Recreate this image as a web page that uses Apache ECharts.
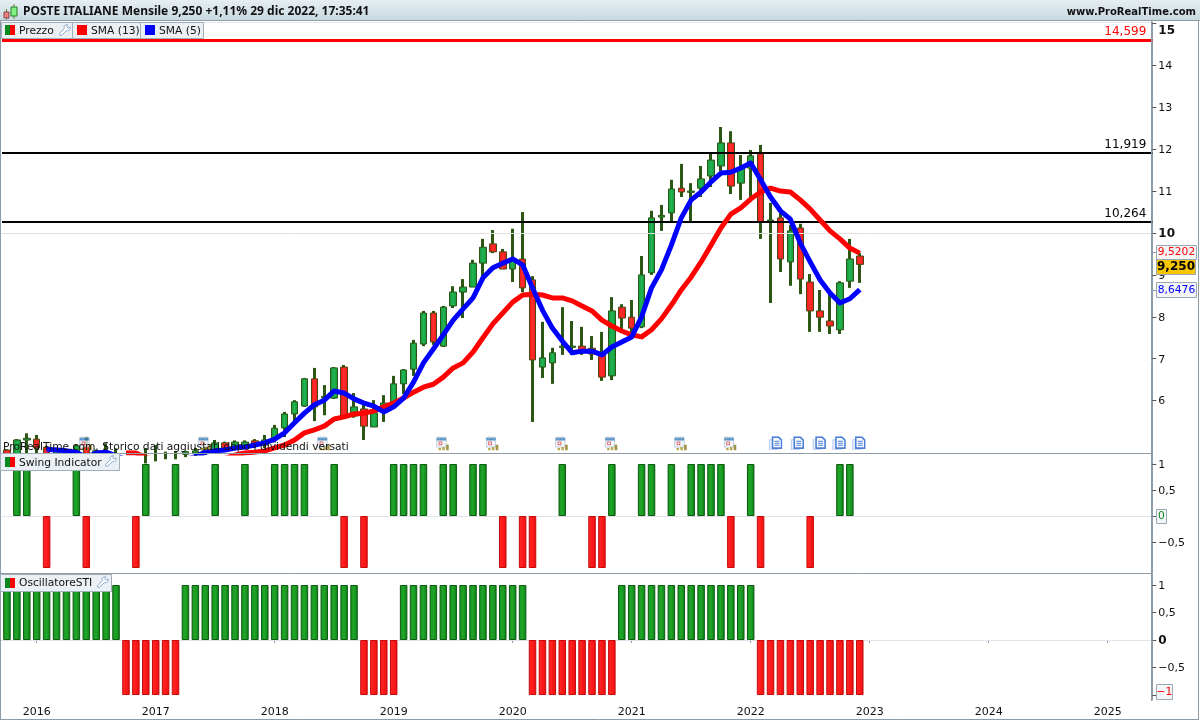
<!DOCTYPE html>
<html><head><meta charset="utf-8">
<style>html,body{margin:0;padding:0;background:#fff}#c{width:1200px;height:720px}</style>
<script src="https://cdn.jsdelivr.net/npm/echarts@6/dist/echarts.min.js"></script>
</head><body><div id="c"></div>
<script>
// open, close, low, high
const candles=[[4.82,4.70,4.68,4.84],[4.68,5.06,4.65,5.08],[5.06,5.10,4.70,5.22],[5.08,4.87,4.70,5.18],[4.89,4.70,4.65,4.92],[4.65,4.84,4.60,4.88],[4.60,4.70,4.55,4.76],[4.70,4.92,4.65,4.95],[4.95,4.68,4.62,5.13],[4.70,4.80,4.60,4.83],
[4.75,4.72,4.65,4.98],[4.60,4.70,4.50,4.86],[4.50,4.60,4.45,4.72],[4.60,4.55,4.45,4.70],[4.55,4.65,4.50,4.87],[4.65,4.70,4.55,4.94],[4.70,4.72,4.60,4.78],[4.70,4.73,4.60,4.80],[4.72,4.78,4.65,4.80],[4.75,4.80,4.68,4.87],
[4.78,4.82,4.70,4.90],[4.80,4.99,4.75,5.06],[4.99,4.87,4.80,5.02],[4.87,5.01,4.82,5.05],[4.92,5.01,4.85,5.05],[5.04,4.94,4.87,5.08],[4.94,5.06,4.87,5.18],[5.07,5.34,5.00,5.42],[5.35,5.68,5.13,5.73],[5.68,5.97,5.42,6.01],
[5.87,6.52,5.85,6.54],[6.52,5.85,5.51,6.78],[6.06,6.10,5.65,6.37],[6.06,6.78,6.04,6.80],[6.80,5.63,5.61,6.85],[5.63,5.85,5.59,6.18],[5.80,5.39,5.06,5.90],[5.37,5.71,5.37,6.01],[5.72,5.94,5.49,6.13],[5.97,6.40,5.97,6.59],
[6.40,6.73,6.16,6.75],[6.75,7.37,6.59,7.45],[7.35,8.09,7.30,8.14],[8.09,7.40,7.33,8.14],[7.30,8.23,7.28,8.26],[8.26,8.59,8.21,8.73],[8.59,8.71,7.97,8.90],[8.71,9.28,8.71,9.36],[9.28,9.66,8.95,9.86],[9.74,9.55,9.52,10.07],
[9.55,9.14,9.14,9.62],[9.14,9.36,8.83,10.10],[9.38,8.69,8.59,10.50],[8.88,6.97,5.49,8.97],[6.80,7.02,6.54,7.88],[6.90,7.14,6.40,7.26],[7.27,7.30,7.09,8.23],[7.27,7.30,7.09,7.90],[7.30,7.21,7.09,7.76],[7.25,7.11,6.97,7.54],
[7.09,6.56,6.47,7.64],[6.59,8.14,6.49,8.47],[8.23,7.97,7.69,8.30],[7.99,7.73,7.52,8.40],[7.76,9.00,7.73,9.45],[9.05,10.36,9.00,10.53],[10.38,10.42,10.05,10.67],[10.48,11.05,10.26,11.27],[11.07,10.98,10.86,11.65],[10.97,11.00,10.26,11.19],
[11.07,11.29,10.86,11.60],[11.36,11.74,11.10,11.91],[11.60,12.15,11.48,12.53],[12.15,11.12,10.93,12.43],[11.19,11.55,10.79,11.86],[11.55,11.84,10.86,11.98],[11.89,10.26,9.86,12.10],[10.28,10.31,8.33,10.72],[10.36,9.38,9.07,10.50],[9.31,10.05,8.74,10.19],
[10.12,8.90,8.54,10.22],[8.83,8.14,7.64,9.02],[8.14,7.99,7.64,8.64],[7.90,7.78,7.59,8.57],[7.69,8.81,7.59,8.85],[8.85,9.38,8.69,9.86],[9.45,9.25,8.81,9.52]];
const sma5=[null,null,null,null,4.84,4.82,4.80,4.77,4.64,4.75,4.77,4.68,4.60,4.58,4.58,4.58,4.58,4.58,4.60,4.66,
4.77,4.80,4.82,4.87,4.89,4.94,4.99,5.08,5.23,5.47,5.70,5.90,6.01,6.23,6.18,6.04,5.94,5.87,5.73,5.85,
6.06,6.44,6.90,7.23,7.57,7.92,8.19,8.45,8.93,9.17,9.28,9.38,9.24,8.69,8.16,7.73,7.42,7.14,7.18,7.18,
7.09,7.28,7.40,7.52,8.00,8.69,9.12,9.71,10.36,10.79,10.98,11.22,11.43,11.45,11.55,11.67,11.27,10.86,10.53,10.33,
9.76,9.31,8.88,8.57,8.33,8.43,8.65];
const sma13=[null,null,null,null,null,null,null,null,null,null,null,null,4.75,4.75,4.64,4.60,4.58,4.58,4.58,4.58,
4.58,4.60,4.62,4.70,4.75,4.77,4.80,4.87,4.94,5.06,5.23,5.30,5.39,5.56,5.61,5.68,5.70,5.75,5.85,5.94,
6.06,6.20,6.32,6.39,6.56,6.78,6.90,7.16,7.50,7.83,8.09,8.35,8.52,8.54,8.52,8.45,8.45,8.38,8.26,8.14,
7.92,7.78,7.66,7.57,7.52,7.69,7.95,8.28,8.64,8.95,9.31,9.71,10.12,10.45,10.60,10.81,10.98,11.07,11.00,10.98,
10.79,10.57,10.31,10.05,9.86,9.64,9.52];
const swing=[0,1,1,0,-1,0,0,1,-1,0, 0,0,0,-1,1,0,0,1,0,0, 0,1,0,0,1,0,0,1,1,1, 1,0,0,1,-1,0,-1,0,0,1,
1,1,1,0,1,1,0,1,1,0, -1,0,-1,-1,0,0,1,0,0,-1, -1,1,0,0,1,1,0,1,0,1, 1,1,1,-1,0,1,-1,0,0,0, 0,-1,0,0,1,1,0];
const oscillator=[1,1,1,1,1,1,1,1,1,1,1,1,-1,-1,-1,-1,-1,-1,1,1,1,1,1,1,1,1,1,1,1,1,1,1,1,1,1,1,-1,-1,-1,-1,
1,1,1,1,1,1,1,1,1,1,1,1,1,-1,-1,-1,-1,-1,-1,-1,-1,-1,1,1,1,1,1,1,1,1,1,1,1,1,1,1,-1,-1,-1,-1,-1,-1,-1,-1,-1,-1,-1];
const levels=[{v:14.599,label:'14,599',color:'#ff0000',width:3},{v:11.919,label:'11,919',color:'#000',width:2},{v:10.264,label:'10,264',color:'#000',width:2}];
const calendarIdx=[8,20,32,44,49,56,61,68,73];
const documentIdx=[77,80,82,84,86];
const iconLevel=4.98;
const priceTicks=[15,14,13,12,11,10,9,8,7,6];
const swingTicks=[1,0.5,0,-0.5];
const oscTicks=[1,0.5,0,-0.5,-1];
const titleText='POSTE ITALIANE Mensile 9,250 +1,11% 29 dic 2022, 17:35:41';
const siteText='www.ProRealTime.com';
const noteText='ProRealTime.com, Storico dati aggiustati dopo i dividendi versati';

const months=[];
for(let i=0,y=2015,m=10;i<116;i++){months.push(y+'-'+String(m).padStart(2,'0'));if(++m>12){m=1;y++;}}

const FONT='"DejaVu Sans"';
const hgrad=(a,b,c)=>({type:'linear',x:0,y:0,x2:1,y2:0,colorStops:[{offset:0,color:a},{offset:.5,color:b},{offset:1,color:c}]});
const candleUp=hgrad('#12933a','#22b552','#12933a'), candleDown=hgrad('#f01010','#ff3030','#f01010');
const barUp=hgrad('#17961f','#1fa528','#0c7c14'), barDown=hgrad('#ff2a2a','#ff1a1a','#e80f0f');
const wick='#2b5613';
const fmt=v=>String(v).replace('.',',').replace('-','\u2212');

function xAxis(i,show){return {type:'category',gridIndex:i,data:months,boundaryGap:true,
  axisLine:{show:show,lineStyle:{color:'#8d9ca6'}},
  axisTick:{show:show,alignWithLabel:true,length:3,interval:(n,v)=>v.endsWith('-01'),lineStyle:{color:'#8d9ca6'}},
  axisLabel:{show:show,interval:(n,v)=>v.endsWith('-01'),formatter:v=>v.slice(0,4),color:'#111',fontFamily:FONT,fontSize:11,margin:7},
  splitLine:{show:false},axisPointer:{show:false}};}
function yAxis(i,min,max,ticks,labels,rich){return {type:'value',gridIndex:i,position:'right',min,max,scale:true,
  axisLine:{show:true,lineStyle:{color:'#8d9ca6'}},
  axisTick:{show:true,length:4,customValues:ticks,lineStyle:{color:'#555'}},
  axisLabel:{show:true,customValues:labels,margin:6,color:'#111',fontFamily:FONT,fontSize:11,formatter:rich,
    rich:{b:{fontWeight:'bold',fontSize:12,color:'#111',fontFamily:FONT,padding:[2,0,0,0]},
      top:{fontWeight:'bold',fontSize:12,color:'#111',fontFamily:FONT,padding:[14,0,0,0]},
      n:{fontSize:11,color:'#111',fontFamily:FONT,padding:[2,0,0,0]}}},
  splitLine:{show:false}};}

const item=(v)=>v===0?null:{value:v,itemStyle:v>0?{color:barUp,borderColor:'#0b5a10',borderWidth:1}:{color:barDown,borderColor:'#c40a0a',borderWidth:1}};
const icon=s=>'image://data:image/svg+xml,'+encodeURIComponent(s);
const calSvg='<svg xmlns="http://www.w3.org/2000/svg" width="48" height="48" viewBox="0 0 16 16"><rect x="1" y="2" width="10" height="10" fill="#eef3f8" stroke="#9fb4c8" stroke-width=".8"/><rect x="1" y="2" width="10" height="3" fill="#2f7fc0"/><rect x="3" y="0.5" width="1.4" height="2.5" fill="#b8b8b8"/><rect x="7.5" y="0.5" width="1.4" height="2.5" fill="#b8b8b8"/><rect x="3.5" y="6.5" width="3" height="3" fill="none" stroke="#e03030" stroke-width=".9"/><rect x="3" y="13" width="2.6" height="2.5" fill="#a89020"/><rect x="7" y="12" width="2.6" height="3.5" fill="#a89020"/><rect x="11" y="9.5" width="2.8" height="6" fill="#8c7a18"/></svg>';
const docSvg='<svg xmlns="http://www.w3.org/2000/svg" width="48" height="48" viewBox="0 0 14 14"><rect x="1" y="3.5" width="8" height="10" fill="#e8eefb" stroke="#a8bfeb" stroke-width="1"/><path d="M4 .8h6l3 3v8H4z" fill="#fff" stroke="#1f5fd0" stroke-width="1.6"/><path d="M6 5h5M6 7h5M6 9h5" stroke="#1f5fd0" stroke-width="1.1"/></svg>';

const chip=(x,y,w,h)=>({type:'rect',shape:{x,y,width:w,height:h},style:{fill:'#eaf0f4',stroke:'#9fb0bb',lineWidth:1},z:50});
const sq=(x,y,col)=>({type:'rect',shape:{x,y,width:10,height:10},style:{fill:col},z:51});
const duo=(x,y)=>[{type:'rect',shape:{x,y,width:5,height:10},style:{fill:'#0a8a1e'},z:51},{type:'rect',shape:{x:x+5,y,width:5,height:10},style:{fill:'#ff0000'},z:51}];
const label=(x,y,text,opt)=>({type:'text',x,y,z:52,style:Object.assign({text,fill:'#111',font:'10.7px '+FONT,textVerticalAlign:'middle'},opt||{})});
const wrench=(x,y)=>({type:'polygon',x,y,scaleX:.85,scaleY:.85,z:51,shape:{points:[[0.8,13.2],[0.8,10.8],[6.2,5.5],[6,3],[7.5,1.2],[10,0.8],[9,3],[10.5,4.8],[13,3.5],[13,6],[11,7.8],[8.5,8],[3.2,13.2]]},style:{fill:'#fff',stroke:'#7ba0c4',lineWidth:1}});
const tag=(x,y,w,h,text,color,fill,bold)=>[{type:'rect',z:60,shape:{x,y,width:w,height:h},style:{fill,stroke:'#9aa9b3',lineWidth:1}},
  {type:'text',z:61,x:x+w/2,y:y+h/2,style:{text,fill:color,font:(bold?'bold 12px ':'10.7px ')+FONT,textAlign:'center',textVerticalAlign:'middle'}}];
const sep=(x1,y1,x2,y2)=>({type:'line',z:40,shape:{x1,y1,x2,y2},style:{stroke:'#8d9ca6',lineWidth:1}});

const graphic=[
 {type:'rect',z:30,shape:{x:0,y:0,width:1200,height:20},style:{fill:{type:'linear',x:0,y:0,x2:0,y2:1,colorStops:[{offset:0,color:'#e6eef2'},{offset:1,color:'#c9d9e0'}]}}},
 sep(0,20.5,1200,20.5),
 {type:'line',z:40,shape:{x1:2,y1:22.5,x2:1151,y2:22.5},style:{stroke:'#e4e6f2',lineWidth:1}},
 sep(.5,20,.5,720), sep(1151.5,20,1151.5,701), sep(1198.5,20,1198.5,720), sep(0,719.5,1199,719.5),
 sep(1,453.5,1151,453.5), sep(1,573.5,1151,573.5),
 {type:'rect',z:50,shape:{x:4,y:12,width:5,height:6},style:{fill:'#f08080',stroke:'#884444',lineWidth:1}},
 {type:'line',z:49,shape:{x1:6.5,y1:9,x2:6.5,y2:19.5},style:{stroke:'#5a8a2a',lineWidth:1}},
 {type:'rect',z:50,shape:{x:11,y:7,width:6,height:9},style:{fill:'#80f080',stroke:'#2a7a2a',lineWidth:1}},
 {type:'line',z:49,shape:{x1:14,y1:4,x2:14,y2:19},style:{stroke:'#5a8a2a',lineWidth:1}},
 label(23,12,titleText,{font:'bold 12px "Noto Sans"'}),
 label(1196,12,siteText,{font:'bold 10px '+FONT,textAlign:'right'}),
 chip(1.5,22.5,71,16),chip(72.5,22.5,68,16),chip(140.5,22.5,63,16),
 ...duo(5,25),label(19,31,'Prezzo'),wrench(59,24),
 sq(77,25,'#ff0000'),label(91,31,'SMA (13)'),
 sq(145,25,'#0000ff'),label(159,31,'SMA (5)'),
 chip(.5,453.5,119,17),...duo(5,457),label(19,463,'Swing Indicator'),wrench(105,455),
 chip(.5,574.5,111,17),...duo(5,578),label(19,583,'OscillatoreSTI'),wrench(97,576),
 label(3,447,noteText),
 ...tag(1156.5,245.5,40,14,'9,5202','#ff0000','#f3f5f7'),
 ...tag(1156.5,259.5,39,15,'9,250','#000','#f7c600',true),
 ...tag(1156.5,282.5,40,15,'8,6476','#0000ff','#f3f5f7'),
 ...tag(1156.5,509.5,10,14,'0','#0a8a1e','#f3f5f7'),
 ...tag(1156.5,684.5,16,15,'\u22121','#ff0000','#f3f5f7'),
 sep(1152,252.5,1156,252.5),sep(1152,290.5,1156,290.5)
];

const option={animation:false,backgroundColor:'#fff',textStyle:{fontFamily:FONT},
 graphic,
 grid:[{left:2,width:1150.3,top:22,height:431},{left:2,width:1150.3,top:453,height:120},{left:2,width:1150.3,top:574,height:126}],
 xAxis:[xAxis(0,false),xAxis(1,false),xAxis(2,true)],
 yAxis:[
  yAxis(0,4.749,15.036,priceTicks,priceTicks,v=>v===15?'{top|15}':v===10?'{b|10}':'{n|'+v+'}'),
  yAxis(1,-1.096,1.212,swingTicks,swingTicks.filter(v=>v!==0),v=>'{n|'+fmt(v)+'}'),
  yAxis(2,-1.09,1.2,oscTicks,oscTicks.filter(v=>v!==-1),v=>v===0?'{b|0}':'{n|'+fmt(v)+'}')
 ],
 series:[
  {type:'line',xAxisIndex:0,yAxisIndex:0,data:[],silent:true,z:1,
   markLine:{silent:true,symbol:'none',animation:false,data:[{yAxis:10,lineStyle:{color:'#e0e0e0',width:1,type:'solid'},label:{show:false}}]}},
  {type:'candlestick',name:'wick',xAxisIndex:0,yAxisIndex:0,barWidth:1,z:2,data:candles,silent:true,
   itemStyle:{color:wick,color0:wick,borderColor:wick,borderColor0:wick,borderWidth:3}},
  {type:'candlestick',name:'Prezzo',xAxisIndex:0,yAxisIndex:0,barWidth:7,z:3,silent:true,
   data:candles.map(([o,c])=>[o,c,Math.min(o,c),Math.max(o,c)]),
   itemStyle:{color:candleUp,color0:candleDown,borderColor:wick,borderColor0:'#4a4a12',borderWidth:1}},
  {type:'line',name:'levels',xAxisIndex:0,yAxisIndex:0,data:[],silent:true,z:4,
   markLine:{silent:true,symbol:'none',animation:false,
    data:levels.map(l=>({yAxis:l.v,lineStyle:{color:l.color,width:l.width,type:'solid'},
      label:{show:true,position:'insideEndTop',formatter:l.label,color:l.color,fontFamily:FONT,fontSize:12,distance:[6,2]}}))}},
  {type:'line',name:'SMA (13)',xAxisIndex:0,yAxisIndex:0,z:5,data:sma13,symbol:'none',showSymbol:false,connectNulls:false,lineStyle:{color:'#ff0000',width:5,join:'round'}},
  {type:'line',name:'SMA (5)',xAxisIndex:0,yAxisIndex:0,z:6,data:sma5,symbol:'none',showSymbol:false,connectNulls:false,lineStyle:{color:'#0000ff',width:5,join:'round'}},
  {type:'scatter',name:'calendar',xAxisIndex:0,yAxisIndex:0,z:7,symbol:icon(calSvg),symbolSize:15,silent:true,data:calendarIdx.map(i=>[i,iconLevel])},
  {type:'scatter',name:'documents',xAxisIndex:0,yAxisIndex:0,z:7,symbol:icon(docSvg),symbolSize:14,silent:true,
   data:documentIdx.map(i=>({value:[i,iconLevel],symbolOffset:i===77?[5,0]:i===80?[-3,0]:[-1,0]}))},
  {type:'bar',name:'Swing Indicator',xAxisIndex:1,yAxisIndex:1,barWidth:7.5,silent:true,data:swing.map(item),
   markLine:{silent:true,symbol:'none',animation:false,z:1,data:[{yAxis:0,lineStyle:{color:'#e2e2ea',width:1,type:'solid'},label:{show:false}}]}},
  {type:'bar',name:'OscillatoreSTI',xAxisIndex:2,yAxisIndex:2,barWidth:7.5,silent:true,data:oscillator.map(item),
   markLine:{silent:true,symbol:'none',animation:false,z:1,data:[{yAxis:0,lineStyle:{color:'#e2e2ea',width:1,type:'solid'},label:{show:false}}]}}
 ]};
const chart=echarts.init(document.getElementById('c'),null,{renderer:'canvas'});
chart.setOption(option);
</script></body></html>
